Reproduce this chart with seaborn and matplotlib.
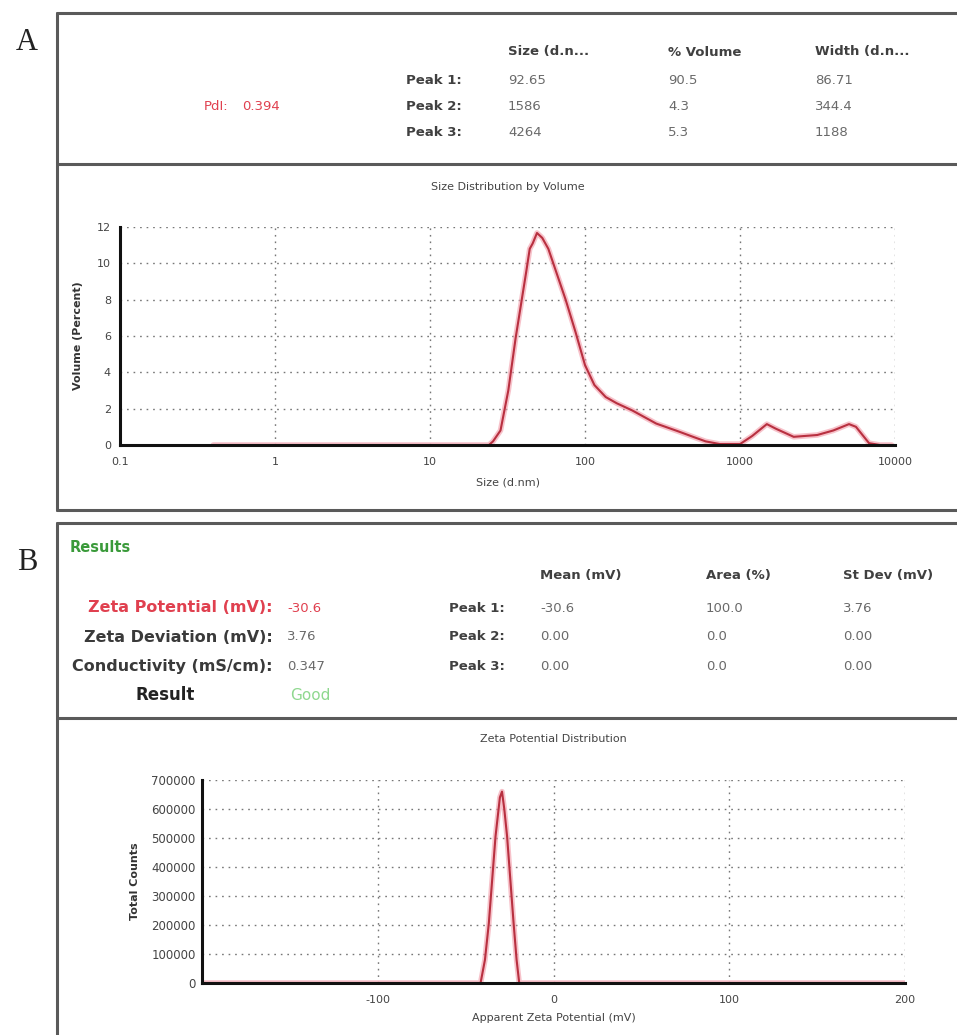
import numpy as np
import matplotlib
matplotlib.use("Agg")
import matplotlib.pyplot as plt
import seaborn as sns
from matplotlib.lines import Line2D
from matplotlib.ticker import FixedLocator, MultipleLocator, LogLocator, NullFormatter

# ---- data ----
size_nm = [0.4, 20, 24, 25.5, 28.5, 32, 35.7, 41.7, 44, 46, 49, 53, 58, 75, 87, 100,
           115, 136, 160, 202, 288, 400, 498, 600, 742, 1000, 1200, 1490, 1700, 2220,
           3150, 4000, 5050, 5600, 6800, 8000, 9500]
volume_pct = [0, 0, 0, 0.2, 0.8, 3.0, 5.9, 9.5, 10.8, 11.1, 11.67, 11.4, 10.8, 8.0, 6.2, 4.4,
              3.3, 2.64, 2.3, 1.9, 1.18, 0.75, 0.45, 0.2, 0.05, 0.05, 0.5, 1.15, 0.9, 0.45,
              0.55, 0.8, 1.15, 1.0, 0.1, 0.0, 0.0]

zeta_mv = [-200, -41.5, -39, -36.8, -33, -30.5, -29.3, -28, -26.4, -22.7, -21, -19.5, 200]
zeta_counts = [0, 0, 80000, 206000, 505000, 640000, 660000, 600000, 505000, 206000, 80000, 0, 0]

size_ticks = [0.1, 1, 10, 100, 1000, 10000]
size_tick_labels = ["0.1", "1", "10", "100", "1000", "10000"]
vol_ticks = [0, 2, 4, 6, 8, 10, 12]
zeta_ticks = [-100, 0, 100, 200]
zeta_tick_labels = ["-100", "0", "100", "200"]
count_ticks = [0, 100000, 200000, 300000, 400000, 500000, 600000, 700000]

peak_rows = ["Peak 1:", "Peak 2:", "Peak 3:"]
size_headers = ["Size (d.n...", "% Volume", "Width (d.n..."]
size_values = [["92.65", "1586", "4264"], ["90.5", "4.3", "5.3"], ["86.71", "344.4", "1188"]]
pdi_value = "0.394"

zeta_headers = ["Mean (mV)", "Area (%)", "St Dev (mV)"]
zeta_values = [["-30.6", "0.00", "0.00"], ["100.0", "0.0", "0.0"], ["3.76", "0.00", "0.00"]]
summary_labels = ["Zeta Potential (mV):", "Zeta Deviation (mV):", "Conductivity (mS/cm):"]
summary_values = ["-30.6", "3.76", "0.347"]

sns.set_style("white")
plt.rcParams['font.family'] = ['DejaVu Sans']

W, H = 957, 1035
fig = plt.figure(figsize=(W / 100, H / 100), dpi=100)


def fx(px):
    return px / W


def fy(py):
    return 1 - py / H


def txt(x, y, s, **kw):
    fig.text(fx(x), fy(y), s, va='center', **kw)


def hline(y, x0, x1, **kw):
    fig.add_artist(Line2D([fx(x0), fx(x1)], [fy(y), fy(y)], **kw))


def vline(x, y0, y1, **kw):
    fig.add_artist(Line2D([fx(x), fx(x)], [fy(y0), fy(y1)], **kw))


box = dict(color='#5a5a5a', lw=2.2)
# panel A frame
hline(13, 57, 957, **box)
hline(164, 57, 957, **box)
hline(510, 57, 957, **box)
vline(57, 13, 510, **box)
# panel B frame
hline(523, 57, 957, **box)
hline(718, 57, 957, **box)
vline(57, 523, 1035, **box)

txt(27, 42, "A", family='Liberation Serif', fontsize=22, ha='center', color='#222')
txt(27, 562, "B", family='Liberation Serif', fontsize=22, ha='center', color='#222')

lab = dict(fontsize=9.5, color='#404040', fontweight='bold')
val = dict(fontsize=9.5, color='#6a6a6a')

# ---- table A ----
cols_a = [508, 668, 815]
rows_a = [52, 80, 107, 133]
for cx, h in zip(cols_a, size_headers):
    txt(cx, rows_a[0], h, ha='left', **lab)
for ry, r in zip(rows_a[1:], peak_rows):
    txt(462, ry, r, ha='right', **lab)
for cx, col in zip(cols_a, size_values):
    for ry, v in zip(rows_a[1:], col):
        txt(cx, ry, v, ha='left', **val)
txt(228, 107, "PdI:", ha='right', fontsize=9.5, color='#e0404f')
txt(242, 107, pdi_value, ha='left', fontsize=9.5, color='#e0404f')

# ---- table B ----
txt(70, 548, "Results", ha='left', fontsize=10.5, color='#3a9a3a', fontweight='bold')
cols_b = [540, 706, 843]
rows_b = [608, 637, 666]
for cx, h in zip(cols_b, zeta_headers):
    txt(cx, 575, h, ha='left', **lab)
for ry, r in zip(rows_b, peak_rows):
    txt(505, ry, r, ha='right', **lab)
for cx, col in zip(cols_b, zeta_values):
    for ry, v in zip(rows_b, col):
        txt(cx, ry, v, ha='left', **val)
for i, (ry, l, v) in enumerate(zip(rows_b, summary_labels, summary_values)):
    c_l = '#e0404f' if i == 0 else '#3a3a3a'
    c_v = '#e0404f' if i == 0 else '#6a6a6a'
    txt(273, ry, l, ha='right', fontsize=11.5, color=c_l, fontweight='bold')
    txt(287, ry, v, ha='left', fontsize=9.5, color=c_v)
txt(165, 695, "Result", ha='center', fontsize=12, color='#222', fontweight='bold')
txt(290, 695, "Good", ha='left', fontsize=11, color='#8fd88f')


def style_axis(ax):
    for s in ['top', 'right']:
        ax.spines[s].set_visible(False)
    for s in ['left', 'bottom']:
        ax.spines[s].set_linewidth(2.2)
        ax.spines[s].set_color('#111')
    ax.tick_params(which='major', direction='inout', length=5, width=1.6, color='#111',
                   labelsize=8, labelcolor='#444', pad=4)
    ax.tick_params(which='minor', direction='inout', length=3, width=1.3, color='#111')
    ax.grid(True, which='major', linestyle=(0, (1.2, 3.5)), color='#777', lw=1.0)
    ax.set_axisbelow(True)


line_col = '#b83040'
glow_col = '#f29aa8'

# ---- plot A ----
axA = fig.add_axes([fx(120), fy(445), fx(895) - fx(120), fy(227) - fy(445)])
sns.lineplot(x=size_nm, y=volume_pct, ax=axA, color=glow_col, lw=4, alpha=0.6)
sns.lineplot(x=size_nm, y=volume_pct, ax=axA, color=line_col, lw=1.5)
axA.set_xscale('log')
axA.set_xlim(0.1, 10000)
axA.set_ylim(0, 12)
axA.xaxis.set_major_locator(FixedLocator(size_ticks))
axA.set_xticklabels(size_tick_labels)
axA.xaxis.set_minor_locator(LogLocator(base=10, subs=np.arange(2, 10)))
axA.xaxis.set_minor_formatter(NullFormatter())
axA.yaxis.set_major_locator(FixedLocator(vol_ticks))
axA.set_yticklabels([str(t) for t in vol_ticks])
axA.yaxis.set_minor_locator(MultipleLocator(0.5))
style_axis(axA)
axA.tick_params(axis='x', pad=6)
axA.set_xlabel("Size (d.nm)", fontsize=8, color='#444', labelpad=8)
axA.set_ylabel("Volume (Percent)", fontsize=8, color='#333', fontweight='bold', labelpad=10)
axA.set_title("Size Distribution by Volume", fontsize=8, color='#444', pad=27)

# ---- plot B ----
axB = fig.add_axes([fx(202), fy(983), fx(905) - fx(202), fy(780) - fy(983)])
sns.lineplot(x=zeta_mv, y=zeta_counts, ax=axB, color=glow_col, lw=4, alpha=0.6)
sns.lineplot(x=zeta_mv, y=zeta_counts, ax=axB, color=line_col, lw=1.5)
axB.set_xlim(-200, 200)
axB.set_ylim(0, 700000)
axB.xaxis.set_major_locator(FixedLocator(zeta_ticks))
axB.set_xticklabels(zeta_tick_labels)
axB.xaxis.set_minor_locator(MultipleLocator(50))
axB.yaxis.set_major_locator(FixedLocator(count_ticks))
axB.set_yticklabels([str(t) for t in count_ticks])
axB.yaxis.set_minor_locator(MultipleLocator(50000))
style_axis(axB)
axB.tick_params(axis='y', labelsize=8.5, pad=2)
axB.tick_params(axis='x', pad=6)
axB.set_xlabel("Apparent Zeta Potential (mV)", fontsize=8, color='#444', labelpad=6)
axB.set_ylabel("Total Counts", fontsize=8, color='#333', fontweight='bold', labelpad=8)
axB.set_title("Zeta Potential Distribution", fontsize=8, color='#444', pad=27)

fig.savefig("out.png", dpi=100, facecolor='white')
